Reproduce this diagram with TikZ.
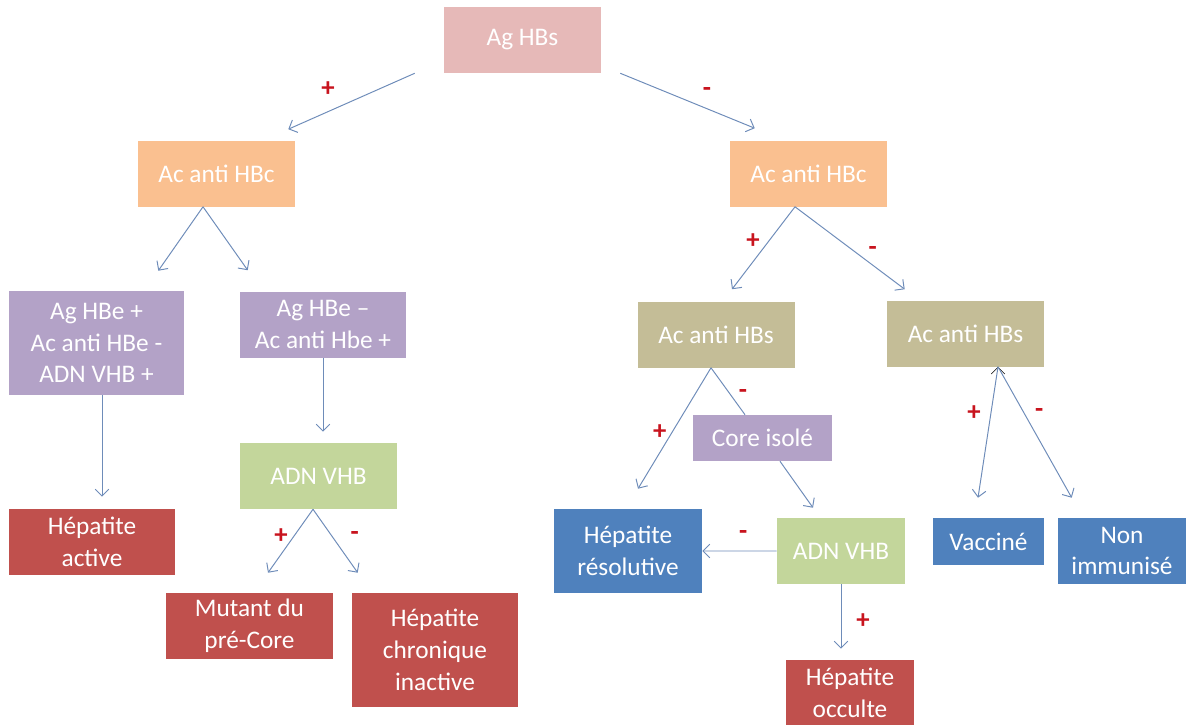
\documentclass[tikz,border=0pt]{standalone}
\usepackage{fontspec}
\setmainfont{Carlito}
\usetikzlibrary{positioning, arrows.meta}

\definecolor{agcol}{RGB}{230,185,184}
\definecolor{hbccol}{RGB}{250,192,144}
\definecolor{hbecol}{RGB}{179,162,199}
\definecolor{adncol}{RGB}{195,214,155}
\definecolor{hbscol}{RGB}{196,189,151}
\definecolor{redcol}{RGB}{192,80,77}
\definecolor{bluecol}{RGB}{79,129,189}
\definecolor{arrcol}{RGB}{110,140,185}
\definecolor{signcol}{RGB}{200,20,30}

\tikzset{
	box/.style={rectangle, inner sep=0pt, text=white, align=center,
		minimum width=3.925cm, minimum height=1.65cm,
		font=\fontsize{18}{22.6}\selectfont},
	sign/.style={text=signcol, inner sep=0pt, font=\fontsize{19}{19}\selectfont\bfseries},
}

\begin{document}
\begin{tikzpicture}[on grid, >={Straight Barb[length=1.7mm,width=3.4mm]},
	every edge/.style={draw=arrcol, line width=.7pt}]
	\useasboundingbox (0,0) rectangle (29.65,-18.1);

	\node[box, fill=agcol] (ag) at (13.0625,-1) {Ag HBs};

	% Ag HBs +
	\node[box, fill=hbccol, below left=3.3375cm and 7.65cm of ag] (hbc1) {Ac anti HBc};
	\node[box, fill=hbecol, minimum width=4.375cm, minimum height=2.6cm, below left=4.2375cm and 3cm of hbc1] (hbe1) {Ag HBe +\\Ac anti HBe -\\ADN VHB +};
	\node[box, fill=hbecol, minimum width=4.15cm, below right=3.775cm and 2.6625cm of hbc1] (hbe2) {Ag HBe –\\Ac anti Hbe +};
	\node[box, fill=redcol, minimum width=4.15cm, below left=4.975cm and .1125cm of hbe1] (active) {Hépatite\\active};
	\node[box, fill=adncol, below left=3.7875cm and .1125cm of hbe2] (adn1) {ADN VHB};
	\node[box, fill=redcol, minimum width=4.175cm, below left=3.75cm and 1.725cm of adn1] (mutant) {Mutant du\\pré-Core};
	\node[box, fill=redcol, minimum width=4.15cm, minimum height=2.85cm, below right=4.35cm and 2.9125cm of adn1] (chron) {Hépatite\\chronique\\inactive};

	% Ag HBs -
	\node[box, fill=hbccol, below right=3.3375cm and 7.15cm of ag] (hbc2) {Ac anti HBc};
	\node[box, fill=hbscol, below left=4.025cm and 2.3125cm of hbc2] (hbs1) {Ac anti HBs};
	\node[box, fill=hbscol, below right=4cm and 3.925cm of hbc2] (hbs2) {Ac anti HBs};
	\node[box, fill=hbecol, minimum width=3.475cm, minimum height=1.15cm, below right=2.5875cm and 1.1625cm of hbs1] (core) {Core isolé};
	\node[box, fill=bluecol, minimum width=3.7cm, minimum height=2.1cm, below left=5.4125cm and 2.2cm of hbs1] (resol) {Hépatite\\résolutive};
	\node[box, fill=adncol, minimum width=3.2cm, below right=2.825cm and 1.9625cm of core] (adn2) {ADN VHB};
	\node[box, fill=redcol, minimum width=3.2cm, below right=3.55cm and .225cm of adn2] (occult) {Hépatite\\occulte};
	\node[box, fill=bluecol, minimum width=2.775cm, minimum height=1.175cm, below right=5.2cm and .575cm of hbs2] (vacc) {Vacciné};
	\node[box, fill=bluecol, minimum width=3.2cm, below right=5.4375cm and 3.9125cm of hbs2] (nonimm) {Non\\immunisé};

	\draw [->]
		([xshift=-.725cm]ag.south west) edge node[sign, pos=.62, xshift=-.21cm, yshift=.46cm]{+} ([xshift=-.175cm,yshift=.275cm]hbc1.north east)
		([xshift=.475cm]ag.south east) edge node[sign, pos=.6, xshift=.15cm, yshift=.365cm]{-} ([xshift=.625cm,yshift=.3cm]hbc2.north west)

		([xshift=-.3375cm]hbc1.south) edge ([xshift=-.65cm,yshift=.5cm]hbe1.north east)
			edge ([xshift=.2cm,yshift=.525cm]hbe2.north west)
		([xshift=.1375cm]hbe1.south) edge ([xshift=.25cm,yshift=.3cm]active.north)
		(hbe2.south) edge ([xshift=.1125cm,yshift=.275cm]adn1.north)
		([xshift=-.1375cm]adn1.south) edge node[sign, pos=.52, xshift=-.215cm, yshift=.16cm]{+} ([xshift=.4625cm,yshift=.5cm]mutant.north)
			edge node[sign, pos=.59, xshift=.385cm, yshift=.27cm]{-} ([xshift=.15cm,yshift=.5cm]chron.north west)

		([xshift=-.3375cm]hbc2.south) edge node[sign, pos=.51, xshift=-.245cm, yshift=.185cm]{+} ([xshift=.4cm,yshift=.3cm]hbs1.north)
			edge node[sign, pos=.65, xshift=.16cm, yshift=.225cm]{-} ([xshift=.45cm,yshift=.275cm]hbs2.north west)
		([xshift=-.125cm]hbs1.south) edge node[sign, pos=.58, xshift=-.22cm, yshift=.145cm]{+} ([xshift=.25cm,yshift=.5cm]resol.north)
			edge[-] node[sign, pos=.69, xshift=.21cm, yshift=.15cm]{-} ([xshift=-.4375cm]core.north)
		([xshift=.4375cm]core.south) edge ([xshift=-.7cm,yshift=.25cm]adn2.north)
		(adn2.west) edge node[sign, pos=.45, yshift=.4cm]{-} (resol.east)
		(adn2.south) edge node[sign, pos=.57, xshift=.55cm]{+} ([xshift=-.225cm,yshift=.275cm]occult.north)
		([xshift=.8125cm]hbs2.south) edge node[sign, pos=.37, xshift=-.415cm, yshift=.06cm]{+} ([xshift=-.2625cm,yshift=.5cm]vacc.north)
			edge node[sign, pos=.4, xshift=.29cm, yshift=.16cm]{-} ([xshift=.35cm,yshift=.5cm]nonimm.north west)
		;
\end{tikzpicture}
\end{document}
